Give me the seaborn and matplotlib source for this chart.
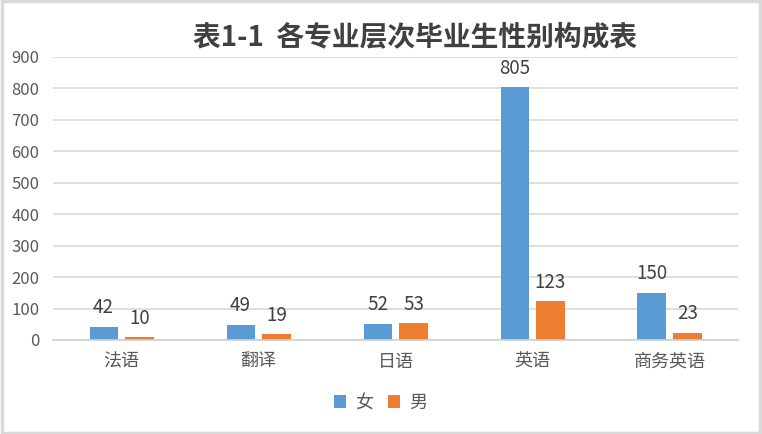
import matplotlib
matplotlib.use("Agg")
import matplotlib.pyplot as plt
import seaborn as sns
import pandas as pd

# 各专业毕业生人数（按性别）
majors = ["法语", "翻译", "日语", "英语", "商务英语"]
female = [42, 49, 52, 805, 150]
male = [10, 19, 53, 123, 23]
genders = ["女", "男"]
y_ticks = [0, 100, 200, 300, 400, 500, 600, 700, 800, 900]

df = pd.DataFrame({
    "专业": majors * 2,
    "性别": [genders[0]] * len(majors) + [genders[1]] * len(majors),
    "人数": female + male,
})

sns.set_theme(style="white")
plt.rcParams["font.family"] = ["Noto Sans CJK SC", "DejaVu Sans"]

fig = plt.figure(figsize=(7.62, 4.34), dpi=100)
ax = fig.add_axes([0.0696, 0.2166, 0.8989, 0.6521])

palette = {"女": "#5B9BD5", "男": "#ED7D31"}
sns.barplot(data=df, x="专业", y="人数", hue="性别", order=majors,
            hue_order=genders, palette=palette, width=0.525, gap=0.22,
            saturation=1, ax=ax, legend=True, linewidth=0)

for cont in ax.containers:
    ax.bar_label(cont, padding=6, fontsize=13.5, color="#404040")

ax.set_ylim(0, 900)
ax.set_yticks(y_ticks)
ax.set_xlim(-0.5, len(majors) - 0.5)
ax.yaxis.grid(True, color="#d9d9d9", linewidth=1.2)
ax.set_axisbelow(True)
for s in ["top", "right", "left"]:
    ax.spines[s].set_visible(False)
ax.spines["bottom"].set_color("#d0d0d0")
ax.spines["bottom"].set_linewidth(1.2)
ax.tick_params(axis="y", labelsize=12, labelcolor="#595959", length=0, pad=10)
ax.tick_params(axis="x", labelsize=13, labelcolor="#595959", length=0, pad=9)
ax.set_xlabel("")
ax.set_ylabel("")

handles, labels = ax.get_legend_handles_labels()
ax.legend(handles, labels, loc="center", bbox_to_anchor=(0.478, -0.223),
          ncol=2, frameon=False, fontsize=13, handlelength=0.7,
          handleheight=0.7, handletextpad=0.5, columnspacing=0.8,
          labelcolor="#595959")

fig.text(0.545, 0.915, "表1-1  各专业层次毕业生性别构成表", ha="center",
         va="center", fontsize=20, fontweight="semibold", color="#404040")

# 外边框
fig.patches.append(plt.Rectangle((0.002, 0.003), 0.996, 0.994,
                                 transform=fig.transFigure, fill=False,
                                 edgecolor="#d9d9d9", linewidth=2.5))

fig.savefig("out.png", dpi=100, facecolor="white")
